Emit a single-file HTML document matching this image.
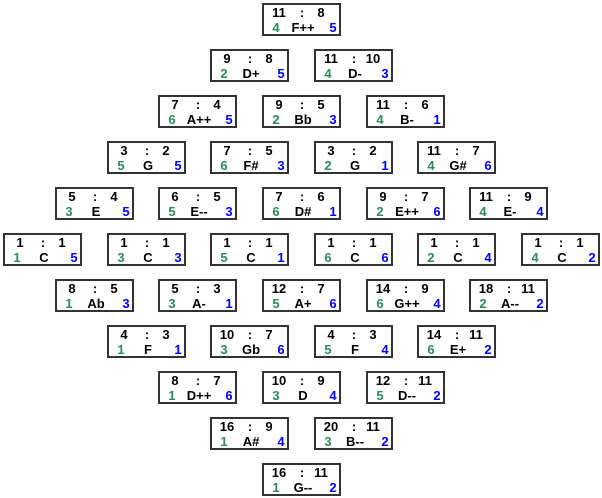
<!DOCTYPE html>
<html><head><meta charset="utf-8"><style>
body{margin:0;width:602px;height:498px;background:#fff;position:relative;overflow:hidden;font-family:"Liberation Sans",Arial,sans-serif;font-weight:bold;font-size:13px}
.b{position:absolute;width:79px;height:33px;box-sizing:border-box;border:2px solid #333;background:#fff}
.b span{position:absolute;line-height:13px;transform:translateX(-50%);white-space:nowrap}
.g{color:#2e8b57}.u{color:#0000ff}
</style></head><body>
<script>
const d=[
[[5,"11","8","4","F++","5"]],
[[4,"9","8","2","D+","5"],[6,"11","10","4","D-","3"]],
[[3,"7","4","6","A++","5"],[5,"9","5","2","Bb","3"],[7,"11","6","4","B-","1"]],
[[2,"3","2","5","G","5"],[4,"7","5","6","F#","3"],[6,"3","2","2","G","1"],[8,"11","7","4","G#","6"]],
[[1,"5","4","3","E","5"],[3,"6","5","5","E--","3"],[5,"7","6","6","D#","1"],[7,"9","7","2","E++","6"],[9,"11","9","4","E-","4"]],
[[0,"1","1","1","C","5"],[2,"1","1","3","C","3"],[4,"1","1","5","C","1"],[6,"1","1","6","C","6"],[8,"1","1","2","C","4"],[10,"1","1","4","C","2"]],
[[1,"8","5","1","Ab","3"],[3,"5","3","3","A-","1"],[5,"12","7","5","A+","6"],[7,"14","9","6","G++","4"],[9,"18","11","2","A--","2"]],
[[2,"4","3","1","F","1"],[4,"10","7","3","Gb","6"],[6,"4","3","5","F","4"],[8,"14","11","6","E+","2"]],
[[3,"8","7","1","D++","6"],[5,"10","9","3","D","4"],[7,"12","11","5","D--","2"]],
[[4,"16","9","1","A#","4"],[6,"20","11","3","B--","2"]],
[[5,"16","11","1","G--","2"]]];
let h="";
d.forEach((r,i)=>r.forEach(c=>{
const x=Math.round(3+c[0]*51.8),y=3+i*46;
h+=`<div class="b" style="left:${x}px;top:${y}px"><span style="left:15px;top:1px">${c[1]}</span><span style="left:38px;top:1px">:</span><span style="left:57px;top:1px">${c[2]}</span><span class="g" style="left:12px;top:16px">${c[3]}</span><span style="left:39px;top:16px">${c[4]}</span><span class="u" style="left:69px;top:16px">${c[5]}</span></div>`;
}));
document.write(h);
</script>
</body></html>
